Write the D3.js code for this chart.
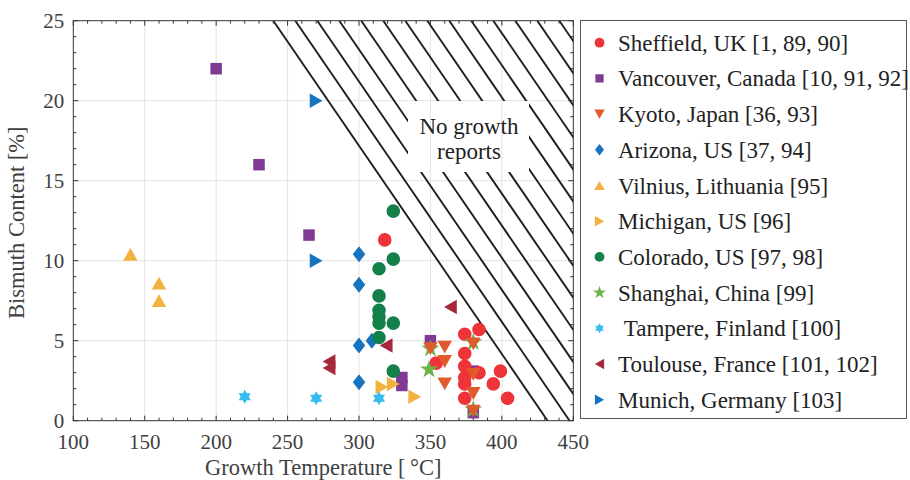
<!DOCTYPE html>
<html><head><meta charset="utf-8">
<script src="https://cdn.jsdelivr.net/npm/d3@7"></script>
<style>
body{margin:0;background:#fff}
svg{display:block}
</style>
</head><body>
<svg id="chart" width="910" height="480" font-family="'Liberation Serif', 'Times New Roman', serif"></svg>
<script>
// Growth temperature (°C) vs bismuth content (%) for each group
const sheffield = [[318,11.3],[374,5.4],[384,5.7],[374,4.2],[354,3.6],[374,3.4],[384,3.0],[399,3.1],[374,2.7],[394,2.3],[374,2.3],[374,1.4],[404,1.4]];
const vancouver = [[200,22],[230,16],[265,11.6],[330,2.7],[330,2.2],[350,5.0],[380,3.1],[380,0.5]];
const kyoto     = [[350,4.5],[360,4.6],[360,3.7],[360,2.3],[380,4.8],[380,2.9],[380,1.7],[380,0.6]];
const arizona   = [[300,10.4],[300,8.5],[300,4.7],[309,5.0],[300,2.4]];
const vilnius   = [[140,10.4],[160,8.6],[160,7.5]];
const michigan  = [[316,2.1],[324,2.3],[339,1.5]];
const colorado  = [[324,13.1],[324,10.1],[314,9.5],[314,7.8],[314,6.9],[314,6.5],[314,6.1],[324,6.1],[314,5.2],[324,3.1]];
const shanghai  = [[350,4.5],[349,3.2],[380,4.9],[380,0.7]];
const tampere   = [[220,1.5],[270,1.4],[314,1.4]];
const toulouse  = [[279,3.7],[279,3.3],[319,4.7],[364,7.1]];
const munich    = [[270,20],[270,10]];

const seriesLabels = ["Sheffield, UK [1, 89, 90]","Vancouver, Canada [10, 91, 92]","Kyoto, Japan [36, 93]","Arizona, US [37, 94]","Vilnius, Lithuania [95]","Michigan, US [96]","Colorado, US [97, 98]","Shanghai, China [99]","\u00a0Tampere, Finland [100]","Toulouse, France [101, 102]","Munich, Germany [103]"];
const seriesData   = [sheffield, vancouver, kyoto, arizona, vilnius, michigan, colorado, shanghai, tampere, toulouse, munich];
const seriesColors = ["#ee3339","#7f3b94","#e15a2c","#1673bf","#f3b23f","#f3b23f","#13804a","#6bb34a","#36bcee","#a6283a","#1673bf"];
const seriesShapes = ["circle","square","down","diamond","up","right","circle","star","hexagram","left","right"];
const drawOrder    = [1,0,3,4,5,6,8,9,10,7,2];

const xTicks = [100,150,200,250,300,350,400,450];
const yTicks = [0,5,10,15,20,25];
const hatchEdge = [[240,25],[432,0]];   // edge of the region with no growth reports
const hatchStep = 15.4;                  // °C between hatch lines
const noteLines = ["No growth","reports"];

const svg = d3.select("#chart");
const x = d3.scaleLinear().domain([100,450]).range([73.3,573.3]);
const y = d3.scaleLinear().domain([0,25]).range([420.7,20.7]);
const [x0,x1] = x.range(), [y0,y1] = [y.range()[1], y.range()[0]];

// marker path builders, centred on the origin
function markerPath(shape, k){
  const p = d3.path();
  if(shape==="circle"){ const r=6.8*k; p.moveTo(r,0); p.arc(0,0,r,0,2*Math.PI); }
  else if(shape==="square"){ const a=11.5*k; p.rect(-a/2,-a/2,a,a); }
  else if(shape==="diamond"){ const w=12.5*k,h=16*k; p.moveTo(0,-h/2); p.lineTo(w/2,0); p.lineTo(0,h/2); p.lineTo(-w/2,0); }
  else if(["up","down","left","right"].includes(shape)){
    const w=14.5*k,h=12.8*k;
    const base=[[0,-h/2],[w/2,h/2],[-w/2,h/2]];
    const rot={up:0,right:90,down:180,left:270}[shape]*Math.PI/180;
    base.forEach(([px,py],i)=>{const qx=px*Math.cos(rot)-py*Math.sin(rot),qy=px*Math.sin(rot)+py*Math.cos(rot); i?p.lineTo(qx,qy):p.moveTo(qx,qy);});
  }
  else if(shape==="star"){
    const R=9.5*k, r=R*0.382;
    for(let i=0;i<10;i++){const a=-Math.PI/2+i*Math.PI/5, rr=i%2?r:R; i?p.lineTo(rr*Math.cos(a),rr*Math.sin(a)):p.moveTo(rr*Math.cos(a),rr*Math.sin(a));}
  }
  else if(shape==="hexagram"){
    const R=7*k, r=R/Math.sqrt(3);
    for(let i=0;i<12;i++){const a=-Math.PI/2+i*Math.PI/6, rr=i%2?r:R; i?p.lineTo(rr*Math.cos(a),rr*Math.sin(a)):p.moveTo(rr*Math.cos(a),rr*Math.sin(a));}
  }
  p.closePath();
  return p.toString();
}

// grid
const grid = svg.append("g").attr("stroke","#e3e3e3").attr("stroke-width",1);
grid.selectAll(".gx").data(xTicks.slice(1,-1)).join("line")
  .attr("x1",d=>x(d)).attr("x2",d=>x(d)).attr("y1",y0).attr("y2",y1);
grid.selectAll(".gy").data(yTicks.slice(1,-1)).join("line")
  .attr("y1",d=>y(d)).attr("y2",d=>y(d)).attr("x1",x0).attr("x2",x1);

// hatched region
const defs = svg.append("defs");
defs.append("clipPath").attr("id","plotClip").append("rect")
  .attr("x",x0).attr("y",y0).attr("width",x1-x0).attr("height",y1-y0);
const noteX = 469, noteY = 134;
const mask = defs.append("mask").attr("id","noteMask");
mask.append("rect").attr("x",0).attr("y",0).attr("width",910).attr("height",480).attr("fill","#fff");
mask.append("rect").attr("x",408).attr("y",101).attr("width",121).attr("height",71).attr("fill","#000");

const hatchIdx = d3.range(0,40);
svg.append("g").attr("clip-path","url(#plotClip)")
  .append("g").attr("mask","url(#noteMask)")
  .selectAll("line").data(hatchIdx).join("line")
  .attr("x1",i=>x(hatchEdge[0][0]+i*hatchStep)).attr("y1",y(hatchEdge[0][1]))
  .attr("x2",i=>x(hatchEdge[1][0]+i*hatchStep)).attr("y2",y(hatchEdge[1][1]))
  .attr("stroke","#1e1e1e").attr("stroke-width",1.9);

svg.append("text").attr("x",noteX).attr("y",noteY).attr("text-anchor","middle")
  .attr("font-size",23).attr("fill","#222")
  .selectAll("tspan").data(noteLines).join("tspan")
  .attr("x",noteX).attr("dy",(d,i)=>i?25:0).text(d=>d);

// frame and inward ticks on all sides
const axG = svg.append("g").attr("stroke","#333").attr("stroke-width",1);
const xMinor = d3.range(100,451,10), yMinor = d3.range(0,26,1);
xMinor.forEach(v=>{
  const L = v%50===0?5:3;
  axG.append("line").attr("x1",x(v)).attr("x2",x(v)).attr("y1",y1).attr("y2",y1-L);
  axG.append("line").attr("x1",x(v)).attr("x2",x(v)).attr("y1",y0).attr("y2",y0+L);
});
yMinor.forEach(v=>{
  const L = v%5===0?5:3;
  axG.append("line").attr("y1",y(v)).attr("y2",y(v)).attr("x1",x0).attr("x2",x0+L);
  axG.append("line").attr("y1",y(v)).attr("y2",y(v)).attr("x1",x1).attr("x2",x1-L);
});
axG.append("rect").attr("x",x0).attr("y",y0).attr("width",x1-x0).attr("height",y1-y0).attr("fill","none");

// tick labels
svg.append("g").selectAll("text").data(xTicks).join("text")
  .attr("x",d=>x(d)).attr("y",y1+28).attr("text-anchor","middle")
  .attr("font-size",21).attr("fill","#404040").text(d=>d);
svg.append("g").selectAll("text").data(yTicks).join("text")
  .attr("x",x0-9).attr("y",d=>y(d)).attr("dy","0.35em").attr("text-anchor","end")
  .attr("font-size",21).attr("fill","#404040").text(d=>d);

// axis titles
svg.append("text").attr("x",(x0+x1)/2).attr("y",475).attr("text-anchor","middle")
  .attr("font-size",22.5).attr("fill","#404040").text("Growth Temperature [\u2009°C]");
svg.append("text").attr("transform",`translate(24,${(y0+y1)/2 + 2}) rotate(-90)`)
  .attr("text-anchor","middle").attr("font-size",22.5).attr("fill","#404040").text("Bismuth Content [%]");

// data markers
const marks = svg.append("g");
drawOrder.forEach(si=>{
  marks.append("g").selectAll("path").data(seriesData[si]).join("path")
    .attr("transform",d=>`translate(${x(d[0])},${y(d[1])})`)
    .attr("d",markerPath(seriesShapes[si],1))
    .attr("fill",seriesColors[si]);
});

// legend
const lg = svg.append("g");
lg.append("rect").attr("x",580.5).attr("y",20.5).attr("width",326).attr("height",398)
  .attr("fill","#fff").attr("stroke","#555").attr("stroke-width",1);
const rowY = i => 42.7 + i*35.7;
const rows = lg.selectAll("g.row").data(seriesLabels).join("g").attr("class","row");
rows.append("path").attr("transform",(d,i)=>`translate(599.5,${rowY(i)})`)
  .attr("d",(d,i)=>markerPath(seriesShapes[i],0.72)).attr("fill",(d,i)=>seriesColors[i]);
rows.append("text").attr("x",618).attr("y",(d,i)=>rowY(i)).attr("dy","0.35em")
  .attr("font-size",23).attr("fill","#222").text(d=>d);
</script>
</body></html>
